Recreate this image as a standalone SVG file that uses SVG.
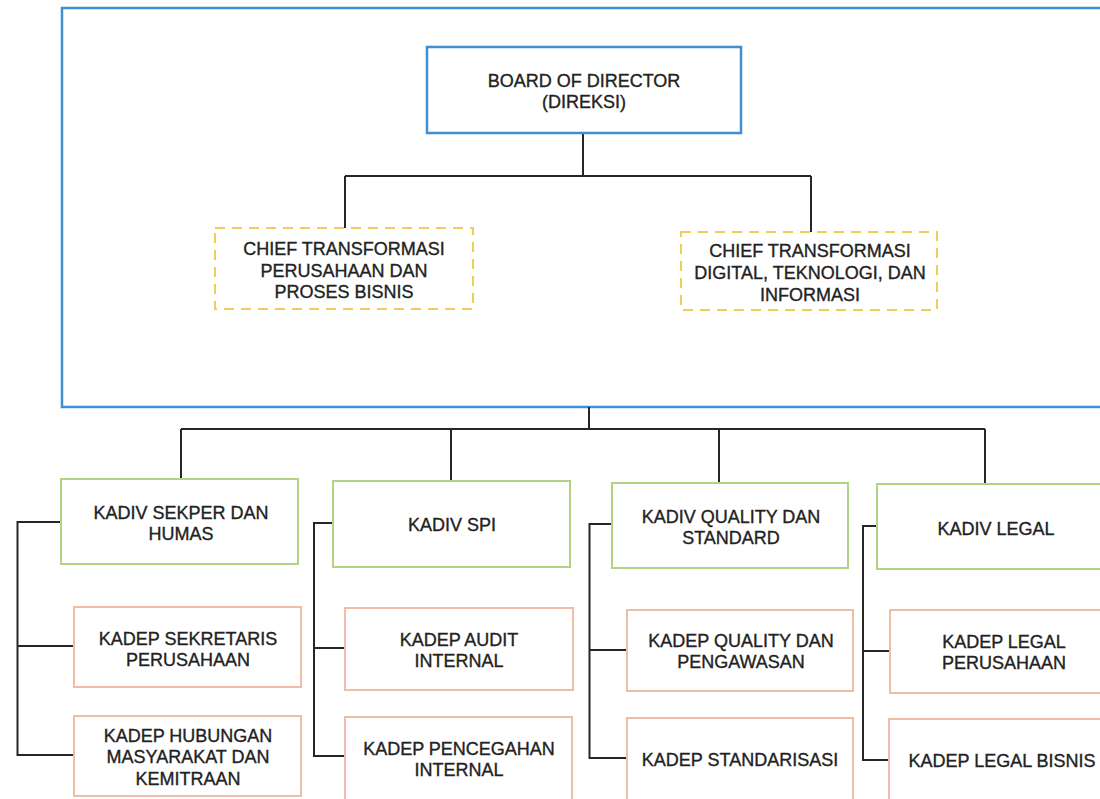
<svg xmlns="http://www.w3.org/2000/svg" width="1100" height="799" viewBox="0 0 1100 799">
<style>
  text{font-family:"Liberation Sans",Arial,sans-serif;font-size:18px;fill:#222;stroke:#222;stroke-width:0.35;text-anchor:middle}
  .frame{fill:none;stroke:#3f8fd2;stroke-width:2.5}
  .bod{fill:#fff;stroke:#3f8fd2;stroke-width:2.5}
  .chief{fill:#fff;stroke:#f2cb5a;stroke-width:2;stroke-dasharray:10 7}
  .kadiv{fill:#fff;stroke:#b3d283;stroke-width:2}
  .kadep{fill:#fff;stroke:#f1bca6;stroke-width:2}
  .conn{fill:none;stroke:#262626;stroke-width:2}
</style>
<rect width="1100" height="799" fill="#ffffff"/>
<g id="frame"><rect class="frame" x="62" y="8" width="1060" height="399"/></g>
<g id="connectors">
  <path class="conn" d="M583 133V176M345 176H811M345 176V228M811 176V232"/>
  <path class="conn" d="M589 407V429M181 429H985M181 429V479M451 429V481M719 429V482M985 429V484"/>
  <path class="conn" d="M61 522H17.5V755H74M17.5 646H74"/>
  <path class="conn" d="M333 523H314V756H345M314 648H345"/>
  <path class="conn" d="M612 524H589.5V758H627M589.5 650H627"/>
  <path class="conn" d="M877 526H863V760H889M863 651H890"/>
</g>
<g id="bod">
  <rect class="bod" x="427" y="47" width="314" height="86"/>
  <text x="584" y="87">BOARD OF DIRECTOR</text>
  <text x="584" y="108">(DIREKSI)</text>
</g>
<g id="chief-left">
  <rect class="chief" x="215" y="228" width="258" height="81"/>
  <text x="344" y="255">CHIEF TRANSFORMASI</text>
  <text x="344" y="277">PERUSAHAAN DAN</text>
  <text x="344" y="298">PROSES BISNIS</text>
</g>
<g id="chief-right">
  <rect class="chief" x="681" y="232" width="256" height="78"/>
  <text x="810" y="257">CHIEF TRANSFORMASI</text>
  <text x="810" y="279">DIGITAL, TEKNOLOGI, DAN</text>
  <text x="810" y="301">INFORMASI</text>
</g>
<g id="kadiv-sekper">
  <rect class="kadiv" x="61" y="479" width="237" height="85"/>
  <text x="181" y="519">KADIV SEKPER DAN</text>
  <text x="181" y="540">HUMAS</text>
</g>
<g id="kadiv-spi">
  <rect class="kadiv" x="333" y="481" width="237" height="86"/>
  <text x="452" y="531">KADIV SPI</text>
</g>
<g id="kadiv-quality">
  <rect class="kadiv" x="612" y="483" width="236" height="85"/>
  <text x="731" y="523">KADIV QUALITY DAN</text>
  <text x="731" y="544">STANDARD</text>
</g>
<g id="kadiv-legal">
  <rect class="kadiv" x="877" y="484" width="240" height="85"/>
  <text x="996" y="535">KADIV LEGAL</text>
</g>
<g id="kadep-sekretaris">
  <rect class="kadep" x="74" y="607" width="227" height="80"/>
  <text x="188" y="645">KADEP SEKRETARIS</text>
  <text x="188" y="666">PERUSAHAAN</text>
</g>
<g id="kadep-hubungan">
  <rect class="kadep" x="74" y="716" width="227" height="80"/>
  <text x="188" y="742">KADEP HUBUNGAN</text>
  <text x="188" y="763">MASYARAKAT DAN</text>
  <text x="188" y="785">KEMITRAAN</text>
</g>
<g id="kadep-audit">
  <rect class="kadep" x="345" y="608" width="228" height="82"/>
  <text x="459" y="646">KADEP AUDIT</text>
  <text x="459" y="667">INTERNAL</text>
</g>
<g id="kadep-pencegahan">
  <rect class="kadep" x="345" y="717" width="227" height="90"/>
  <text x="459" y="755">KADEP PENCEGAHAN</text>
  <text x="459" y="776">INTERNAL</text>
</g>
<g id="kadep-quality">
  <rect class="kadep" x="627" y="610" width="226" height="81"/>
  <text x="741" y="647">KADEP QUALITY DAN</text>
  <text x="741" y="668">PENGAWASAN</text>
</g>
<g id="kadep-standarisasi">
  <rect class="kadep" x="627" y="718" width="226" height="90"/>
  <text x="740" y="766">KADEP STANDARISASI</text>
</g>
<g id="kadep-legal-perusahaan">
  <rect class="kadep" x="890" y="610" width="228" height="83"/>
  <text x="1004" y="648">KADEP LEGAL</text>
  <text x="1004" y="669">PERUSAHAAN</text>
</g>
<g id="kadep-legal-bisnis">
  <rect class="kadep" x="889" y="719" width="228" height="90"/>
  <text x="1002" y="767">KADEP LEGAL BISNIS</text>
</g>
</svg>
